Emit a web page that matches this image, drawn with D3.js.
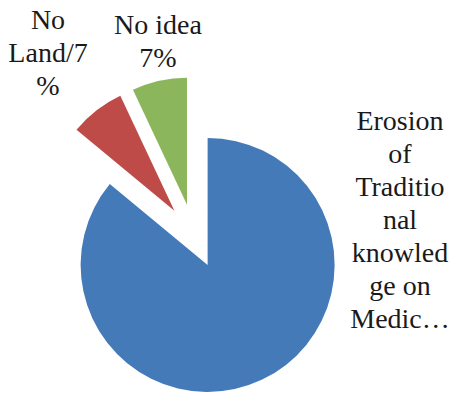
<!DOCTYPE html>
<html>
<head>
<meta charset="utf-8">
<script src="https://cdn.jsdelivr.net/npm/d3@7"></script>
<style>
  body { margin: 0; }
  svg text { font-family: "Liberation Serif", "Times New Roman", Tinos, serif !important; }
</style>
</head>
<body>
<svg id="chart" width="454" height="395" font-family="Liberation Serif, serif"></svg>
<script>
// Share of responses per reason (percent)
const categories = ["Erosion of Traditional knowledge on Medicinal plants", "No Land", "No idea"];
const values = [86, 7, 7];
const colors = ["#457ab9", "#be4b48", "#8cb65c"];
// Data labels as wrapped lines
const labelLines = [
  ["Erosion", "of", "Traditio", "nal", "knowled", "ge on", "Medic…"],
  ["No", "Land/7", "%"],
  ["No idea", "7%"]
];

const svg = d3.select("#chart");
const cx = 194, cy = 236, radius = 127, explode = 32;

const pie = d3.pie().sort(null).value(d => d)
  .startAngle(0).endAngle(2 * Math.PI);
const arcs = pie(values);
const arc = d3.arc().innerRadius(0).outerRadius(radius);

const g = svg.append("g").attr("transform", `translate(${cx},${cy})`);
g.selectAll("path")
  .data(arcs)
  .join("path")
  .attr("d", arc)
  .attr("fill", (d, i) => colors[i])
  .attr("transform", d => {
    const a = (d.startAngle + d.endAngle) / 2;
    return `translate(${explode * Math.sin(a)},${-explode * Math.cos(a)})`;
  });

// label anchor (centre x, first baseline y), one text element per line
const labelPos = [[400, 130], [48, 29], [158, 34]];
const lineH = 33;
labelLines.forEach((lines, i) => {
  lines.forEach((ln, j) => {
    svg.append("text")
      .attr("x", labelPos[i][0])
      .attr("y", labelPos[i][1] + j * lineH)
      .attr("text-anchor", "middle")
      .attr("font-family", "Liberation Serif")
      .style("font-family", '"Liberation Serif", serif')
      .style("font-size", "28px")
      .style("fill", "#1a1a1a")
      .text(ln);
  });
});
</script>
</body>
</html>
